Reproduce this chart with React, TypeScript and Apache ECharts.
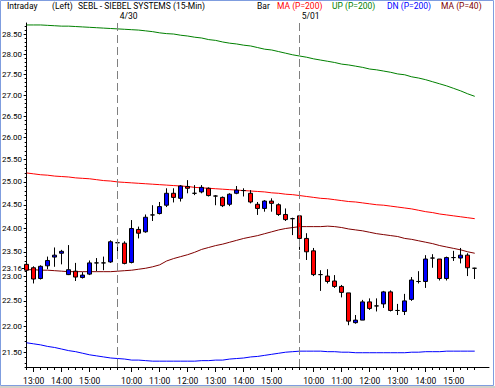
import React, { useEffect, useRef } from 'react';
import * as echarts from 'echarts';

// 15-minute bar start times (4/29 afternoon, 4/30, 5/01)
const times = [
  '12:45', '13:00', '13:15', '13:30', '13:45', '14:00', '14:15', '14:30', '14:45', '15:00', '15:15', '15:30', '15:45',
  '9:30', '9:45', '10:00', '10:15', '10:30', '10:45', '11:00', '11:15', '11:30', '11:45', '12:00', '12:15', '12:30', '12:45',
  '13:00', '13:15', '13:30', '13:45', '14:00', '14:15', '14:30', '14:45', '15:00', '15:15', '15:30', '15:45',
  '9:30', '9:45', '10:00', '10:15', '10:30', '10:45', '11:00', '11:15', '11:30', '11:45', '12:00', '12:15', '12:30', '12:45',
  '13:00', '13:15', '13:30', '13:45', '14:00', '14:15', '14:30', '14:45', '15:00', '15:15', '15:30', '15:45',
];
const dayLabels = ['4/30', '5/01'];

const opens = [
  23.24, 23.17, 22.95, 23.21, 23.39, 23.47, 23.03, 23.10, 22.97, 23.04, 23.27, 23.27, 23.29,
  23.69, 23.68, 23.28, 23.97, 23.92, 24.28, 24.31, 24.49, 24.75, 24.64, 24.90, 24.75, 24.78, 24.86,
  24.69, 24.66, 24.51, 24.75, 24.81, 24.75, 24.51, 24.42, 24.58, 24.50, 24.29, 24.20,
  24.26, 23.78, 23.52, 23.03, 23.00, 22.90, 22.79, 22.66, 22.07, 22.12, 22.48, 22.40, 22.44, 22.68,
  22.31, 22.29, 22.53, 22.89, 22.89, 23.37, 23.35, 22.95, 23.38, 23.37, 23.43, 23.16,
];
const closes = [
  23.12, 22.94, 23.20, 23.32, 23.43, 23.51, 23.13, 22.98, 23.02, 23.27, 23.27, 23.27, 23.71,
  23.69, 23.26, 23.99, 23.89, 24.23, 24.28, 24.46, 24.75, 24.66, 24.91, 24.86, 24.75, 24.88, 24.70,
  24.69, 24.48, 24.73, 24.82, 24.81, 24.56, 24.42, 24.58, 24.53, 24.29, 24.18, 24.20,
  23.78, 23.50, 23.03, 23.03, 22.89, 22.79, 22.67, 22.10, 22.12, 22.48, 22.35, 22.40, 22.68, 22.31,
  22.31, 22.50, 22.92, 22.89, 23.35, 23.37, 22.95, 23.38, 23.38, 23.43, 23.17, 23.16,
];
const lows = [
  23.08, 22.85, 22.93, 23.14, 23.19, 23.24, 23.02, 22.90, 22.95, 23.02, 23.10, 23.12, 23.27,
  23.35, 23.24, 23.26, 23.78, 23.90, 24.15, 24.29, 24.45, 24.55, 24.57, 24.75, 24.71, 24.75, 24.68,
  24.49, 24.45, 24.47, 24.73, 24.68, 24.53, 24.28, 24.35, 24.35, 24.26, 24.15, 23.85,
  23.54, 23.33, 23.00, 22.70, 22.85, 22.76, 22.57, 22.02, 22.05, 22.12, 22.32, 22.29, 22.36, 22.29,
  22.22, 22.22, 22.50, 22.85, 22.76, 23.17, 22.91, 22.91, 23.31, 23.26, 23.00, 22.94,
];
const highs = [
  23.28, 23.20, 23.22, 23.40, 23.59, 23.54, 23.64, 23.27, 23.08, 23.32, 23.37, 23.40, 23.74,
  23.77, 23.72, 24.17, 24.03, 24.29, 24.49, 24.56, 24.86, 24.86, 24.93, 25.04, 24.93, 24.93, 24.88,
  24.71, 24.68, 24.75, 24.91, 24.86, 24.82, 24.56, 24.60, 24.64, 24.53, 24.42, 24.22,
  24.28, 23.89, 23.58, 23.12, 23.14, 23.02, 22.82, 22.66, 22.22, 22.52, 22.55, 22.55, 22.70, 22.71,
  22.44, 22.64, 22.98, 23.10, 23.43, 23.45, 23.35, 23.40, 23.52, 23.58, 23.47, 23.17,
];

const ma200 = [
  25.20, 25.18, 25.16, 25.15, 25.13, 25.12, 25.11, 25.09, 25.08, 25.07, 25.05, 25.03, 25.02,
  25.00, 24.99, 24.98, 24.97, 24.96, 24.95, 24.94, 24.93, 24.92, 24.91, 24.90, 24.88, 24.87, 24.86,
  24.85, 24.84, 24.83, 24.82, 24.81, 24.80, 24.79, 24.78, 24.76, 24.75, 24.73, 24.72,
  24.70, 24.68, 24.66, 24.64, 24.63, 24.61, 24.59, 24.57, 24.56, 24.54, 24.52, 24.50, 24.49, 24.47,
  24.45, 24.43, 24.41, 24.38, 24.35, 24.33, 24.30, 24.28, 24.26, 24.24, 24.22, 24.20,
];
const up200 = [
  28.73, 28.73, 28.73, 28.72, 28.71, 28.70, 28.70, 28.69, 28.68, 28.67, 28.66, 28.65, 28.64,
  28.63, 28.62, 28.61, 28.60, 28.58, 28.56, 28.53, 28.51, 28.50, 28.47, 28.45, 28.42, 28.40, 28.36,
  28.34, 28.30, 28.27, 28.25, 28.22, 28.20, 28.16, 28.12, 28.10, 28.06, 28.02, 27.98,
  27.95, 27.92, 27.88, 27.85, 27.82, 27.79, 27.75, 27.73, 27.70, 27.67, 27.63, 27.61, 27.58, 27.55,
  27.51, 27.49, 27.44, 27.41, 27.37, 27.32, 27.27, 27.22, 27.16, 27.10, 27.03, 26.97,
];
const dn200 = [
  21.68, 21.66, 21.64, 21.61, 21.59, 21.56, 21.53, 21.51, 21.48, 21.45, 21.43, 21.41, 21.39,
  21.38, 21.37, 21.35, 21.35, 21.34, 21.33, 21.33, 21.33, 21.33, 21.33, 21.33, 21.33, 21.34, 21.34,
  21.35, 21.35, 21.37, 21.38, 21.39, 21.41, 21.42, 21.44, 21.46, 21.48, 21.50, 21.51,
  21.52, 21.52, 21.52, 21.52, 21.51, 21.51, 21.50, 21.50, 21.49, 21.49, 21.49, 21.49, 21.49, 21.49,
  21.49, 21.49, 21.50, 21.50, 21.51, 21.51, 21.51, 21.52, 21.52, 21.52, 21.52, 21.52,
];
const ma40 = [
  23.13, 23.13, 23.12, 23.12, 23.11, 23.10, 23.09, 23.09, 23.09, 23.09, 23.09, 23.09, 23.09,
  23.10, 23.11, 23.12, 23.14, 23.16, 23.19, 23.23, 23.31, 23.36, 23.40, 23.44, 23.49, 23.55, 23.59,
  23.63, 23.66, 23.70, 23.74, 23.78, 23.81, 23.84, 23.88, 23.92, 23.96, 23.99, 24.01,
  24.03, 24.03, 24.03, 24.03, 24.04, 24.03, 24.01, 23.98, 23.96, 23.94, 23.91, 23.88, 23.86, 23.84,
  23.82, 23.78, 23.76, 23.73, 23.70, 23.67, 23.63, 23.60, 23.57, 23.54, 23.50, 23.47,
];

const priceTicks = [21.5, 22, 22.5, 23, 23.5, 24, 24.5, 25, 25.5, 26, 26.5, 27, 27.5, 28, 28.5];
const lastPrice = 23.16;
const PRICE_MIN = 21.22;
const PRICE_MAX = 28.78;

const headerItems = [
  { text: 'Intraday', x: 7, color: '#000000' },
  { text: '(Left)', x: 52, color: '#000000' },
  { text: 'SEBL - SIEBEL SYSTEMS', x: 78, color: '#000000' },
  { text: '(15-Min)', x: 173, color: '#000000' },
  { text: 'Bar', x: 257, color: '#000000' },
  { text: 'MA (P=200)', x: 277, color: '#ff0000' },
  { text: 'UP (P=200)', x: 332, color: '#008000' },
  { text: 'DN (P=200)', x: 387, color: '#0000ff' },
  { text: 'MA (P=40)', x: 441, color: '#800000' },
];

export default function App() {
  const ref = useRef<HTMLDivElement>(null);

  useEffect(() => {
    if (!ref.current) return;
    const chart = echarts.init(ref.current, null, { renderer: 'svg' });
    const ln = Math.log;
    const FONT = 'Roboto';
    const FS = 8.5;
    const YFS = 8;

    const candleData = times.map((_, i) => [i, ln(opens[i]), ln(closes[i]), ln(lows[i]), ln(highs[i])]);
    const lineData = (arr: number[]) => arr.map((v, i) => [i, ln(v)]);
    const hourIdx = times.map((t, i) => (t.endsWith(':00') ? i : -1)).filter((i) => i >= 0);
    const dayStart = times.map((t, i) => (t === '9:30' ? i : -1)).filter((i) => i >= 0);
    const allIdx = times.map((_, i) => i);
    const minorVals: number[] = [];
    for (let k = 213; k <= 287; k++) minorVals.push(ln(k / 10));

    const xMin = -0.24;
    const xMax = 66.04;
    const yMin = ln(PRICE_MIN);
    const yMax = ln(PRICE_MAX);

    const baseX = {
      type: 'value' as const,
      min: xMin,
      max: xMax,
      position: 'bottom' as const,
      splitLine: { show: false },
    };
    const baseY = {
      type: 'value' as const,
      min: yMin,
      max: yMax,
      position: 'left' as const,
      offset: 0,
      splitLine: { show: false },
    };

    const lineSeries = (name: string, arr: number[], color: string) => ({
      name,
      type: 'line' as const,
      data: lineData(arr),
      showSymbol: false,
      symbol: 'none',
      lineStyle: { color, width: 1 },
      z: 1,
      silent: true,
    });

    chart.setOption({
      animation: false,
      backgroundColor: '#ffffff',
      grid: { left: 25, right: 6, top: 23, bottom: 21, containLabel: false, outerBoundsMode: 'none' },
      xAxis: [
        {
          ...baseX,
          axisLine: { show: true, lineStyle: { color: '#000000', width: 1 } },
          axisTick: { show: true, length: 5, lineStyle: { color: '#000000' }, customValues: hourIdx },
          axisLabel: {
            show: true,
            customValues: hourIdx,
            margin: 9,
            color: '#000000',
            fontFamily: FONT,
            fontSize: FS,
            formatter: (v: number) => times[Math.round(v)] ?? '',
          },
        },
        {
          ...baseX,
          axisLine: { show: false },
          axisTick: { show: true, length: 3, lineStyle: { color: '#000000' }, customValues: allIdx },
          axisLabel: { show: false },
        },
      ],
      yAxis: [
        {
          ...baseY,
          axisLine: { show: true, lineStyle: { color: '#000000', width: 1 } },
          axisTick: { show: true, length: 3, lineStyle: { color: '#000000' }, customValues: priceTicks.map(ln) },
          axisLabel: {
            show: true,
            customValues: priceTicks.map(ln),
            margin: 3,
            color: '#000000',
            fontFamily: FONT,
            fontSize: YFS,
            lineHeight: 8,
            formatter: (v: number) => Math.exp(v).toFixed(2),
          },
        },
        {
          ...baseY,
          axisLine: { show: false },
          axisTick: { show: true, length: 2, lineStyle: { color: '#000000' }, customValues: minorVals },
          axisLabel: { show: false },
        },
        {
          ...baseY,
          axisLine: { show: false },
          axisTick: { show: true, length: 3, lineStyle: { color: '#000000' }, customValues: [ln(lastPrice)] },
          axisLabel: {
            show: true,
            customValues: [ln(lastPrice)],
            margin: 3,
            color: '#000000',
            fontFamily: FONT,
            fontSize: YFS,
            lineHeight: 8,
            padding: [0, 0, 2, 0],
            formatter: (v: number) => Math.exp(v).toFixed(2),
          },
        },
      ],
      graphic: [
        {
          type: 'rect',
          silent: true,
          shape: { x: 0.5, y: 0.5, width: 493, height: 385 },
          style: { fill: 'none', stroke: '#7f9ddf', lineWidth: 1 },
        },
        {
          type: 'rect',
          silent: true,
          shape: { x: 0, y: 386, width: 495, height: 2 },
          style: { fill: '#d4d0c8' },
        },
        ...headerItems.map((h) => ({
          type: 'text' as const,
          silent: true,
          x: h.x,
          y: 6,
          style: {
            text: h.text,
            fill: h.color,
            fontFamily: FONT,
            fontSize: FS,
            lineHeight: 9,
            verticalAlign: 'middle',
            align: 'left',
          },
        })),
      ],
      series: [
        lineSeries('UP (P=200)', up200, '#008000'),
        lineSeries('MA (P=200)', ma200, '#ff0000'),
        lineSeries('DN (P=200)', dn200, '#0000ff'),
        lineSeries('MA (P=40)', ma40, '#800000'),
        {
          name: 'SEBL',
          type: 'candlestick',
          data: candleData,
          encode: { x: 0, y: [1, 2, 3, 4] },
          barWidth: 5,
          z: 3,
          itemStyle: {
            color: '#0000ff',
            color0: '#ff0000',
            borderColor: '#000000',
            borderColor0: '#000000',
            borderColorDoji: '#000000',
            borderWidth: 1,
          },
          markLine: {
            silent: true,
            symbol: ['none', 'none'],
            animation: false,
            lineStyle: { color: '#808080', type: [8, 4], width: 1 },
            label: {
              show: true,
              position: 'end',
              align: 'left',
              distance: 3,
              padding: [0, 0, 0, 2],
              lineHeight: 9,
              color: '#000000',
              fontFamily: FONT,
              fontSize: FS,
              formatter: (p: any) => p.name,
            },
            data: dayStart.map((i, k) => ({ xAxis: i, name: dayLabels[k] })),
          },
        },
      ],
    });

    return () => chart.dispose();
  }, []);

  return <div ref={ref} style={{ position: 'fixed', left: 0, top: 0, width: 495, height: 388 }} />;
}
